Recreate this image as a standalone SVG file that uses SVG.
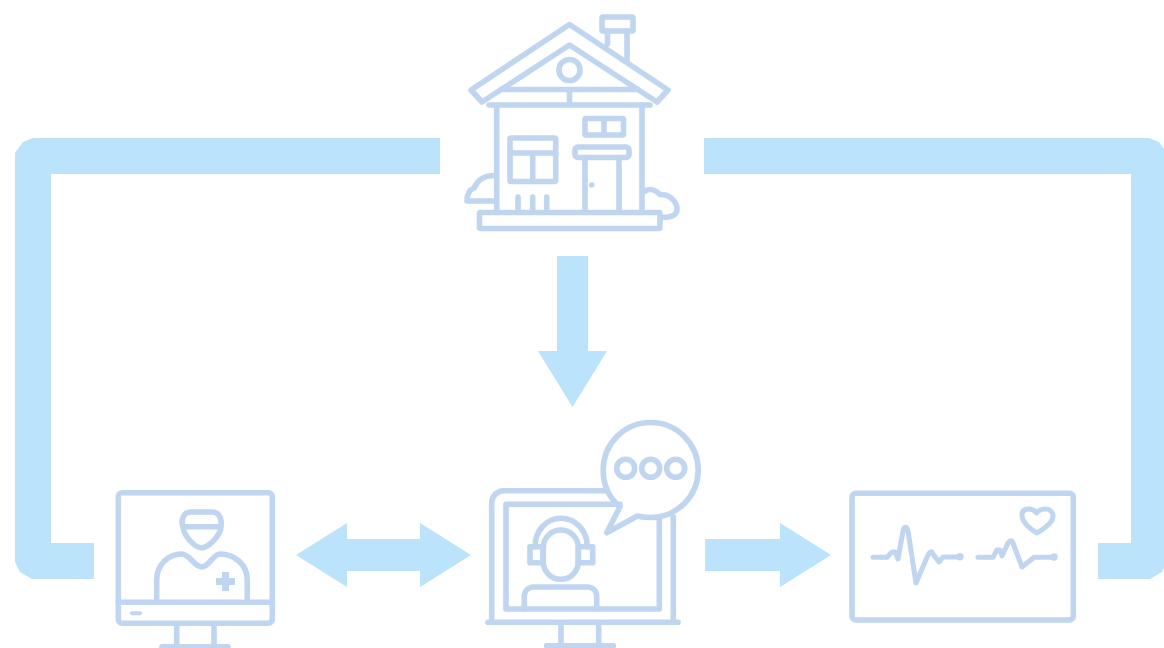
<svg xmlns="http://www.w3.org/2000/svg" width="1164" height="648" viewBox="0 0 1164 648">
<style>
.i{fill:none;stroke:#bfd5f0;stroke-width:5.6;stroke-linejoin:round;stroke-linecap:round}
.t{stroke-width:5}
.f{fill:#bfd5f0;stroke:none}
.a{fill:#bbe3fb;stroke:none}
</style>
<rect width="1164" height="648" fill="#fff"/>
<g id="connectors">
<polygon class="a" points="440,138 33,138 23,142 15,153 15,562 20,572 32,579 94,579 94,543 51,543 51,174 440,174"/>
<polygon class="a" points="704,138 1149,138 1159,142 1167,153 1167,562 1162,572 1150,579 1098,579 1098,543 1131,543 1131,174 704,174"/>
<polygon class="a" points="557,256 588,256 588,351 607,351 572.5,407 538,351 557,351"/>
<polygon class="a" points="296,555 347,523 347,539 420,539 420,523 471,555 420,587 420,571 347,571 347,587"/>
<polygon class="a" points="705,539 780,539 780,523 831,555 780,587 780,571 705,571"/>
</g>
<g id="house" class="i">
<path d="M471,90 569.5,24.500 668,90 657,102 569.500,45 482,102Z"/>
<path d="M501,89.500H638M569.500,90V105M489,105H650"/>
<circle cx="569.500" cy="70" r="10.500"/>
<rect x="602" y="17" width="31" height="14" rx="1"/>
<path d="M607.500,31V44M627,31V60"/>
<path d="M496.700,105V212M642,105V212"/>
<rect x="510" y="138" width="45.700" height="43.500" rx="1"/>
<path d="M510,153H555.700M532.700,153V181.500"/>
<rect x="585" y="118.500" width="38.500" height="16.500" rx="1"/>
<path d="M604,118.500V135"/>
<rect x="575" y="147" width="54" height="10.500" rx="3"/>
<path d="M585,157.500V212M619,157.500V212"/>
<circle class="f" cx="591.700" cy="185" r="2.800"/>
<rect x="479.500" y="212.500" width="180.500" height="16" rx="1"/>
<path d="M518,197V212M532.700,197V212M546.700,197V212"/>
<path d="M495,175.500C486,175 478,179 474,188C469,190 467,195 467,201H495"/>
<path d="M645,191C650,188 656,190 660,194.500C670,194 677,202 677,209C677,214 674,217.500 662,217.500"/>
</g>
<g id="doctor" class="i">
<rect x="118.300" y="492.700" width="154" height="130.600" rx="4"/>
<path d="M118.300,602.300H272.300"/>
<path d="M132,613.300H140" stroke-width="4"/>
<path d="M176.700,624V646M214,624V646M162,646.700H228"/>
<path d="M183,527C181,522 182,512 191,512H212C221,512 222,522 221,527C220,536 209,547 201.700,548C194,547 184,536 183,527Z"/>
<path d="M183,526.700H220"/>
<path d="M156.700,600V580C156.700,565 168,554 181.700,554C190,554 194,567 201.700,567C209,567 213,554 220,554C235,554 247.300,565 247.300,580V600"/>
<path class="f" d="M222,572H229V578H235V585H229V591H222V585H216V578H222Z"/>
</g>
<g id="agent" class="i">
<path d="M606.700,490.700H504C497,490.700 491.700,496 491.700,503V622M673.300,517V622"/>
<path d="M488,622.300H678"/>
<path d="M620,504.300H506V609H659.300V518"/>
<path d="M561,624V646M598.700,624V646M546.700,645.700H613.300"/>
<path d="M620,506.700C608,497 603.200,484 603.200,470C603.200,444 624,422.500 650.700,422.500C677,422.500 698.200,444 698.200,470C698.200,496 677,517.500 650.700,517.500C646,517.500 641,517 637.300,516L606.700,532.700Z"/>
<circle cx="625.700" cy="468.300" r="9"/>
<circle cx="650.700" cy="468.300" r="9"/>
<circle cx="675.700" cy="468.300" r="9"/>
<path d="M535,546.700C535,530 547,518.300 561,518.300C575,518.300 587.300,530 587.300,546.700"/>
<rect x="543.300" y="530" width="35" height="49.300" rx="17.500"/>
<rect x="530" y="546.700" width="13" height="16"/>
<rect x="578.300" y="546.700" width="14.400" height="16"/>
<path d="M524.300,609V597C524.300,591 528,587 534,587H587C593,587 596.700,591 596.700,597V609"/>
</g>
<g id="monitor" class="i">
<rect x="852" y="493.300" width="221.300" height="126.700" rx="4"/>
<path class="t" d="M873,557.300H887L892,552H895L898,559L903,531C904,526 907,526 908,531L916,583L928,555C930,551 932,551 933,554L939,562L943,557H958"/>
<circle class="f" cx="960" cy="556.700" r="3.700"/>
<path class="t" d="M978,557.300H993L997,550H1000L1002,556L1008,543C1010,540 1012,540 1013,543L1022,567L1034,557.300H1053"/>
<circle class="f" cx="1054" cy="557" r="3.700"/>
<path class="t" d="M1036.700,533C1032,530 1022,523 1022,515C1022,510 1026,509 1029,509C1033,509 1035,511 1036.700,513C1038,511 1041,509 1045,509C1049,509 1053,511 1053,516C1053,523 1042,530 1036.700,533Z"/>
</g>
</svg>
